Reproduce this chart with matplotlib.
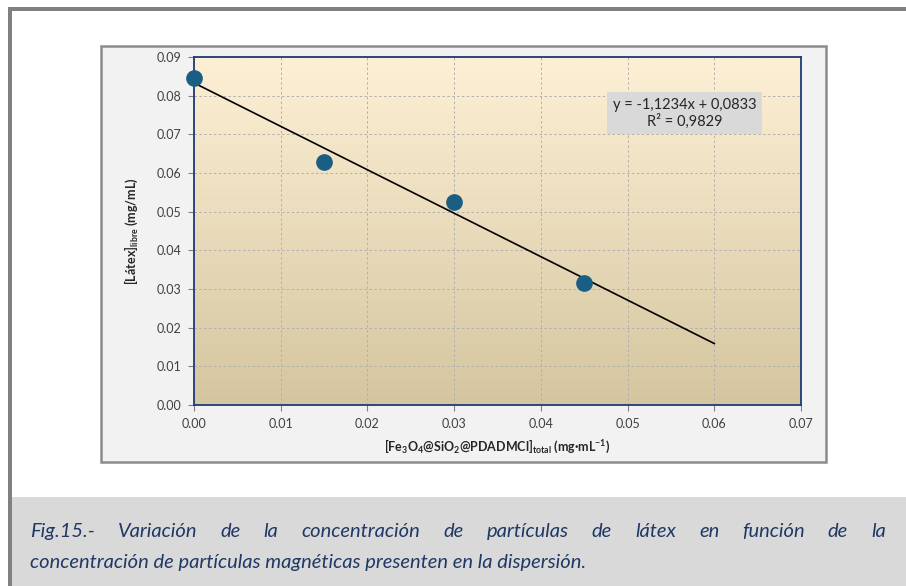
import numpy as np
import matplotlib
matplotlib.use('Agg')
from matplotlib import pyplot as plt
from matplotlib.patches import Rectangle

plt.rcParams['font.family'] = ['Lato', 'DejaVu Sans']
plt.rcParams['mathtext.fontset'] = 'custom'
plt.rcParams['mathtext.rm'] = 'Lato:bold'
plt.rcParams['mathtext.bf'] = 'Lato:bold'
plt.rcParams['mathtext.default'] = 'bf'

# datos: partículas magnéticas vs látex libre
x_mag = [0.0, 0.015, 0.030, 0.045]
y_latex = [0.0845, 0.0628, 0.0525, 0.0315]
pendiente = -1.1234
ordenada = 0.0833
r2 = 0.9829
x_ticks = [0.00, 0.01, 0.02, 0.03, 0.04, 0.05, 0.06, 0.07]
y_ticks = [0.00, 0.01, 0.02, 0.03, 0.04, 0.05, 0.06, 0.07, 0.08, 0.09]

W, H = 906, 586
fig = plt.figure(figsize=(W / 100, H / 100), dpi=100)

def px(x0, y0, x1, y1):
    return (x0 / W, 1 - y1 / H, (x1 - x0) / W, (y1 - y0) / H)

# marco exterior y recuadro del pie de figura
fig.patches.append(Rectangle((11 / W, 0), 1, (H - 497) / H, transform=fig.transFigure,
                             facecolor='#d9d9d9', edgecolor='none', zorder=0))
fig.patches.append(Rectangle((8 / W, 1 - 11 / H), 1, 4 / H, transform=fig.transFigure,
                             facecolor='#808080', edgecolor='none', zorder=1))
fig.patches.append(Rectangle((8 / W, 0), 3.5 / W, 1 - 7 / H, transform=fig.transFigure,
                             facecolor='#808080', edgecolor='none', zorder=1))

# área del gráfico
l, b, w, h = px(101, 46, 826, 462)
fig.patches.append(Rectangle((l, b), w, h, transform=fig.transFigure,
                             facecolor='#f2f2f2', edgecolor='#8c8c8c', lw=1.8, zorder=1))

ax = fig.add_axes(px(194, 57, 801, 405))
ax.set_zorder(3)
ax.set_xlim(0, 0.07)
ax.set_ylim(0, 0.09)

# fondo degradado crema -> beige
top = np.array([253, 240, 213]) / 255
bot = np.array([213, 198, 160]) / 255
t = np.linspace(0, 1, 256)[:, None]
grad = (top * (1 - t) + bot * t)[:, None, :]
ax.imshow(grad, extent=(0, 0.07, 0, 0.09), aspect='auto', zorder=0, interpolation='bilinear')

ax.set_xticks(x_ticks)
ax.set_yticks(y_ticks)
ax.set_xticklabels(['%.2f' % v for v in x_ticks])
ax.set_yticklabels(['%.2f' % v for v in y_ticks])
ax.tick_params(labelsize=9, colors='#404040', length=4, color='#808080', pad=5)
ax.grid(True, ls=(0, (2.5, 2.5)), color='#b0b0b0', lw=0.7)
for s in ax.spines.values():
    s.set_color('#1f3a78')
    s.set_linewidth(1.3)

xs = np.array([0.0, 0.06])
ax.plot(xs, pendiente * xs + ordenada, color='black', lw=1.2, zorder=3)
ax.plot(x_mag, y_latex, 'o', color='#1a5e84', ms=11, zorder=4, clip_on=False)

ax.text(0.0566, 0.0755, 'y = %sx + %s\nR² = %s' % (
            ('%.4f' % pendiente).replace('.', ','),
            ('%.4f' % ordenada).replace('.', ','),
            ('%.4f' % r2).replace('.', ',')),
        ha='center', va='center', fontsize=10.5, color='#262626', linespacing=1.15, zorder=5,
        bbox=dict(boxstyle='square,pad=0.4', facecolor='#d9d9d9', edgecolor='none'))

ax.set_xlabel(r'[Fe$_3$O$_4$@SiO$_2$@PDADMCl]$_{total}$ (mg·mL$^{-1}$)',
              fontsize=9, fontweight='bold', color='#262626', labelpad=6)
ax.set_ylabel(r'[Látex]$_{libre}$ (mg/mL)', fontsize=9, fontweight='bold',
              color='#262626', labelpad=12)

# pie de figura justificado
pie1 = 'Fig.15.- Variación de la concentración de partículas de látex en función de la'
pie2 = 'concentración de partículas magnéticas presenten en la dispersión.'
estilo = dict(fontsize=14.5, style='italic', color='#1f3864', va='baseline')
renderer = fig.canvas.get_renderer()
palabras = pie1.split(' ')
textos = [fig.text(0, 1 - 537 / H, p, **estilo) for p in palabras]
anchos = [tx.get_window_extent(renderer).width for tx in textos]
x0, x1 = 30, 886
hueco = (x1 - x0 - sum(anchos)) / (len(palabras) - 1)
x = x0
for tx, a in zip(textos, anchos):
    tx.set_x(x / W)
    x += a + hueco
fig.text(x0 / W, 1 - 568 / H, pie2, **estilo)

fig.savefig('out.png', dpi=100)
